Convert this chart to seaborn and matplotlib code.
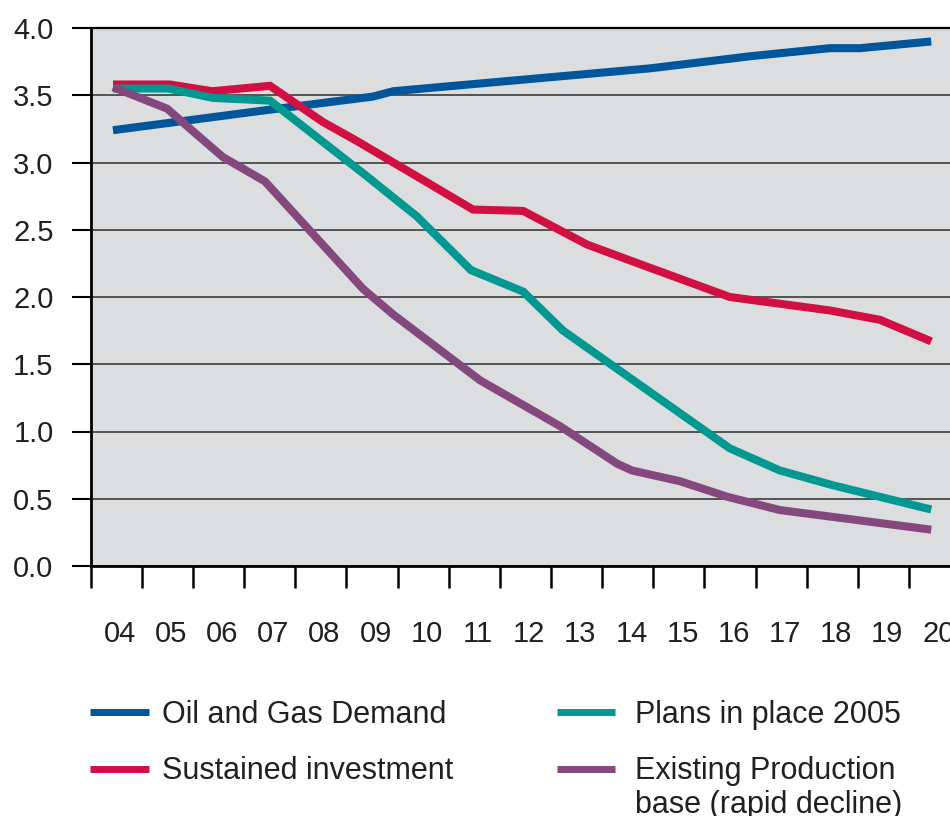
import numpy as np
import pandas as pd
import matplotlib
matplotlib.use("Agg")
import matplotlib.pyplot as plt
import seaborn as sns
from matplotlib.lines import Line2D

# ---- data ----
years = list(range(2004, 2021))
year_labels = ["04", "05", "06", "07", "08", "09", "10", "11", "12",
               "13", "14", "15", "16", "17", "18", "19", "20"]

demand_x = [2004.0, 2007.01, 2009.08, 2009.48, 2014.50, 2016.46, 2018.02, 2018.61, 2020.0]
demand_y = [3.24, 3.39, 3.49, 3.53, 3.70, 3.79, 3.85, 3.85, 3.90]

sustained_x = [2004.0, 2005.11, 2005.94, 2007.07, 2008.11, 2008.77, 2011.04, 2012.02,
               2013.27, 2014.05, 2016.06, 2018.02, 2019.0, 2020.0]
sustained_y = [3.58, 3.58, 3.53, 3.57, 3.30, 3.16, 2.65, 2.64,
               2.39, 2.28, 2.00, 1.90, 1.83, 1.67]

plans_x = [2004.0, 2005.08, 2005.96, 2007.07, 2008.89, 2009.94, 2011.0, 2012.02,
           2012.80, 2016.06, 2017.04, 2018.08, 2020.0]
plans_y = [3.55, 3.55, 3.48, 3.46, 2.92, 2.60, 2.20, 2.04,
           1.75, 0.875, 0.71, 0.60, 0.42]

existing_x = [2004.0, 2005.06, 2005.51, 2006.15, 2006.97, 2008.89, 2009.48, 2011.18,
              2012.74, 2013.86, 2014.15, 2015.09, 2016.01, 2017.04, 2020.0]
existing_y = [3.56, 3.40, 3.25, 3.04, 2.86, 2.06, 1.87, 1.38,
              1.04, 0.76, 0.71, 0.63, 0.515, 0.416, 0.27]

series_names = ["Oil and Gas Demand", "Sustained investment",
                "Plans in place 2005", "Existing Production"]
second_line = "base (rapid decline)"
colors = {"Oil and Gas Demand": "#00569B",
          "Sustained investment": "#D10F42",
          "Plans in place 2005": "#009890",
          "Existing Production": "#84477E"}

frames = []
for name, xs, ys in [("Oil and Gas Demand", demand_x, demand_y),
                     ("Sustained investment", sustained_x, sustained_y),
                     ("Plans in place 2005", plans_x, plans_y),
                     ("Existing Production", existing_x, existing_y)]:
    frames.append(pd.DataFrame({"year": xs, "value": ys, "series": name}))
df = pd.concat(frames, ignore_index=True)

# ---- style ----
sns.set_style("white")
plt.rcParams['font.family'] = ['Liberation Sans', 'DejaVu Sans']
txt_color = "#231F20"

W, H = 950, 816
fig = plt.figure(figsize=(W / 100, H / 100), dpi=100)
left_px, right_px, top_px, bot_px = 90.7, 950, 28, 566
ax = fig.add_axes([left_px / W, 1 - bot_px / H, (right_px - left_px) / W, (bot_px - top_px) / H])
ax.set_facecolor("#DCDDDF")

sns.lineplot(data=df, x="year", y="value", hue="series", hue_order=series_names,
             palette=colors, linewidth=5.8, legend=False, estimator=None, ax=ax)
for ln in ax.get_lines():
    ln.set_solid_capstyle("butt")
    ln.set_solid_joinstyle("miter")

px_per_year = 51.14
ax.set_xlim(2004 + (left_px - 113) / px_per_year, 2004 + (right_px - 113) / px_per_year)
ax.set_ylim(0, 4)

tick_pos = [y + (90.7 - 113) / px_per_year for y in years]
label_pos = [y + (120 - 113) / px_per_year for y in years]
ax.set_xticks(tick_pos)
ax.set_xticklabels([])
ax.set_xticks(label_pos, minor=True)
ax.set_xticklabels(year_labels, minor=True)
ax.tick_params(axis="x", which="major", direction="out", length=16, width=1.8,
               color="black", bottom=True)
ax.tick_params(axis="x", which="minor", length=0, pad=39, labelsize=21,
               labelcolor=txt_color, bottom=True)

yt = [0.0, 0.5, 1.0, 1.5, 2.0, 2.5, 3.0, 3.5, 4.0]
ax.set_yticks(yt)
ax.set_yticklabels([f"{v:.1f}" for v in yt])
ax.tick_params(axis="y", direction="out", length=13.7, width=1.5, pad=13,
               labelsize=21, labelcolor=txt_color, color="black", left=True)

ax.set_xlabel("")
ax.set_ylabel("")
ax.grid(axis="y", color="#3c3c3c", linewidth=1.2)
ax.grid(axis="x", visible=False)
ax.set_axisbelow(True)

ax.spines["right"].set_visible(False)
for s, lw in [("top", 1.6), ("left", 2.0), ("bottom", 2.0)]:
    ax.spines[s].set_color("black")
    ax.spines[s].set_linewidth(lw)

# ---- legends ----
fs = 22
fs_px = fs * 100 / 72


def handle(c):
    return Line2D([], [], color=colors[c], linewidth=5, solid_capstyle="butt")


common = dict(loc="upper left", frameon=False, fontsize=fs, handlelength=58.5 / fs_px,
              borderpad=0, borderaxespad=0, labelspacing=0.86, labelcolor=txt_color)
leg1 = fig.legend([handle(series_names[0]), handle(series_names[1])],
                  [series_names[0], series_names[1]],
                  bbox_to_anchor=(90 / W, 1 - 700 / H),
                  handletextpad=14 / fs_px, **common)
leg2 = fig.legend([handle(series_names[2]), handle(series_names[3])],
                  [series_names[2], series_names[3]],
                  bbox_to_anchor=(556.7 / W, 1 - 700 / H),
                  handletextpad=20 / fs_px, **common)

fig.canvas.draw()
bb = leg2.get_texts()[1].get_window_extent()
baseline = bb.y0 + 0.212 * fs_px
fig.text(bb.x0 / W, (baseline - 33) / H, second_line, fontsize=fs,
         color=txt_color, ha="left", va="baseline")

fig.savefig("out.png", dpi=100)
